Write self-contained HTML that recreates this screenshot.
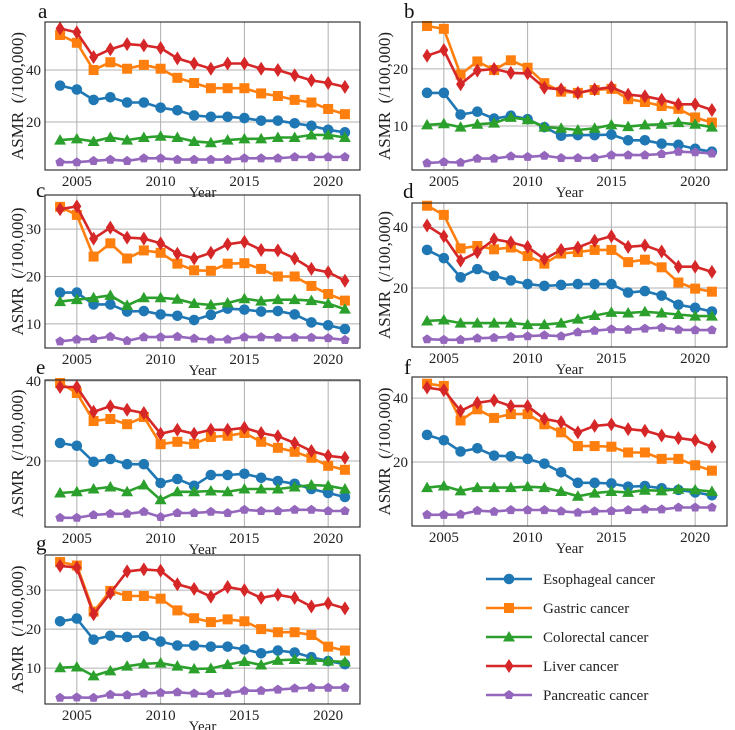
<!DOCTYPE html>
<html><head><meta charset="utf-8"><style>
body{margin:0;background:#fff;}
svg{display:block;font-family:"Liberation Serif",serif;}
</style></head><body>
<svg id="fig" width="735" height="730" viewBox="0 0 735 730" xmlns="http://www.w3.org/2000/svg"></svg>
<script>
const years=[2004,2005,2006,2007,2008,2009,2010,2011,2012,2013,2014,2015,2016,2017,2018,2019,2020,2021];
const xTicks=[2005,2010,2015,2020];
// panel a
const aEsophageal=[34,32.5,28.5,29.5,27.5,27.5,25.5,24.5,22.5,22,22,21.5,20.5,20.5,19.5,18.5,17,16];
const aGastric=[53.5,50.5,40,43,40.5,42,40.5,37,35,33,33,33,31,30,28.5,27.5,25,23];
const aColorectal=[13,13.5,12.5,14,13,14,14.5,14,12.5,12,13,13.5,13.5,14,14,15,15,14];
const aLiver=[56,54.5,45,48,50,49.5,48.5,44.5,42.5,40.5,42.5,42.5,40.5,40,38,36,35,33.5];
const aPancreatic=[4.5,4.5,5,5.5,5,6,6,5.5,5.5,5.5,5.5,6,6,6,6.5,6.5,6.5,6.5];
const aTicks=[20,40];
// panel b
const bEsophageal=[15.8,15.8,12,12.5,11.3,11.8,11.2,9.8,8.3,8.4,8.4,8.5,7.5,7.5,6.9,6.7,6,5.5];
const bGastric=[27.5,27,19,21.3,19.8,21.5,20.2,17.5,16,15.8,16.3,16.5,14.7,14.2,13.5,13,11.5,10.6];
const bColorectal=[10.2,10.4,9.8,10.3,10.5,11.5,11.1,9.8,9.6,9.3,9.6,10.2,9.9,10.2,10.3,10.6,10.3,9.8];
const bLiver=[22.3,23.3,17.3,19.7,20,19.3,19.2,16.7,16.4,15.8,16.4,16.8,15.5,15.2,14.6,13.8,13.8,12.8];
const bPancreatic=[3.5,3.7,3.6,4.3,4.3,4.7,4.6,4.8,4.4,4.4,4.4,4.9,4.9,4.9,5.1,5.5,5.4,5.2];
const bTicks=[10,20];
// panel c
const cEsophageal=[16.6,16.6,14.1,14.1,12.6,12.7,12,11.7,10.8,11.9,13.2,13,12.6,12.7,12,10.3,9.7,8.9];
const cGastric=[34.7,33,24.2,27,23.8,25.5,25,22.7,21.3,21.2,22.7,22.8,21.6,20,20,18,16.3,14.9];
const cColorectal=[14.7,15.1,15.5,16,13.9,15.5,15.5,15.2,14.3,14,14.4,15.3,14.8,15.1,15.1,14.9,14.3,13.1];
const cLiver=[34.2,34.8,28,30.3,28.2,28,27,24.8,23.8,25,26.8,27.3,25.6,25.5,23.8,21.6,20.9,19.1];
const cPancreatic=[6.3,6.7,6.8,7.3,6.4,7.2,7.2,7.3,6.9,6.7,6.7,7.2,7.2,7.1,7.1,7.1,7.0,6.6];
const cTicks=[10,20,30];
// panel d
const dEsophageal=[32.5,29.8,23.5,26.2,24,22.5,21.3,20.7,21,21.3,21.3,21.3,18.5,19,17.5,14.5,13.5,12.3];
const dGastric=[47,44,33,33.8,32.7,33.3,30.5,28,31.3,31.8,32.5,32.5,28.5,29.3,26.8,21.8,19.8,18.8];
const dColorectal=[9.2,9.5,8.5,8.5,8.5,8.5,8,8,8.5,9.8,11,12,11.8,12.2,11.8,11.3,10.8,10.8];
const dLiver=[40.5,37,29,31.8,36,35,33.5,29.5,32.5,33.3,35.5,37,33.5,34,32,27,27,25.3];
const dPancreatic=[3.2,3,3,3.5,3.7,4,4.2,4.5,4.2,5.5,6,6.5,6.3,6.7,7,6.3,6.2,6.2];
const dTicks=[20,40];
// panel e
const eEsophageal=[24.5,23.8,19.8,20.5,19.2,19.2,14.5,15.5,13.8,16.5,16.5,16.8,15.8,15,14.3,13,12,11];
const eGastric=[39.5,37,30,30.5,29.2,31,24.2,24.8,24.3,26,26.3,27,24.8,23.3,22.3,20.8,18.8,17.8];
const eColorectal=[12,12.3,13,13.5,12.3,14,10.3,12.3,12.3,12.5,12.3,13,13,13,13.5,14,13.8,13];
const eLiver=[38.5,38.5,32.3,33.7,32.8,32,26.8,27.8,26.8,27.8,27.8,28.3,27,26.2,24.5,22.5,21.3,20.8];
const ePancreatic=[5.8,5.8,6.5,6.8,6.8,7.3,6.0,7,7,7.3,7,7.8,7.5,7.5,7.8,7.8,7.5,7.5];
const eTicks=[20,40];
// panel f
const fEsophageal=[28.5,26.8,23.3,24.3,22,21.8,21,19.5,16.8,13.5,13.5,13.3,12.3,12.5,11.8,11.3,10.5,9.6];
const fGastric=[44.5,43.8,33,36.5,33.8,35,35,31.8,29.3,25,25,24.8,23,23,21,21,19,17.3];
const fColorectal=[12,12.5,11,12,12,12,12.3,12,10.8,9.3,10.3,10.8,10.5,11.2,11,11.5,11.3,10.8];
const fLiver=[43.3,42.5,36,38.5,39.3,37.5,37.5,33.5,32.5,29.3,31.3,31.8,30.3,29.8,28.3,27.5,26.8,24.8];
const fPancreatic=[3.5,3.5,3.6,4.8,4.5,5,5,5,4.6,4.2,4.6,4.7,5,5.2,5.2,5.8,5.8,5.8];
const fTicks=[20,40];
// panel g
const gEsophageal=[22,22.7,17.3,18.3,18,18.2,16.8,15.8,15.8,15.5,15.5,14.8,13.8,14.5,14,12.8,11.8,11];
const gGastric=[37.2,36.3,24.5,29.8,28.5,28.5,27.8,24.8,22.8,21.8,22.5,22,20,19.2,19.2,18.5,15.5,14.5];
const gColorectal=[10.1,10.3,8,9.3,10.5,11.1,11.3,10.5,9.8,9.9,10.9,11.7,10.8,12,12.2,12,11.8,11.6];
const gLiver=[36.2,35.8,23.8,29.2,34.8,35.3,35,31.5,30.3,28.3,30.8,30,28,28.8,28,25.8,26.6,25.3];
const gPancreatic=[2.4,2.5,2.4,3.2,3.1,3.5,3.7,3.8,3.5,3.4,3.6,4.2,4.2,4.5,4.8,5,5,5];
const gTicks=[10,20,30];

const seriesNames=["Esophageal cancer","Gastric cancer","Colorectal cancer","Liver cancer","Pancreatic cancer"];
const colors=["#1f77b4","#ff7f0e","#2ca02c","#d62728","#9467bd"];
const markers=["circle","square","triangle","diamond","pentagon"];

const NS="http://www.w3.org/2000/svg";
const svg=document.getElementById('fig');
function mk(tag,attrs,parent){const e=document.createElementNS(NS,tag);for(const k in attrs)e.setAttribute(k,attrs[k]);(parent||svg).appendChild(e);return e;}

function marker(g,type,x,y,c){
  let e;
  if(type==="circle") e=mk('circle',{cx:x,cy:y,r:5.3,fill:c},g);
  else if(type==="square") e=mk('rect',{x:x-5,y:y-5,width:10,height:10,fill:c},g);
  else if(type==="triangle") e=mk('polygon',{points:`${x},${y-6} ${x+6},${y+4.5} ${x-6},${y+4.5}`,fill:c},g);
  else if(type==="diamond") e=mk('polygon',{points:`${x},${y-7} ${x+4.5},${y} ${x},${y+7} ${x-4.5},${y}`,fill:c},g);
  else { let p=[];for(let i=0;i<5;i++){const a=-Math.PI/2+i*2*Math.PI/5;p.push((x+5*Math.cos(a)).toFixed(1)+','+(y+5*Math.sin(a)).toFixed(1));}
    e=mk('polygon',{points:p.join(' '),fill:c},g);}
  return e;
}

const panels=[
 {id:'a',L:45,R:360,T:22,B:170,ymin:1.5,ymax:58.5,ticks:aTicks,data:[aEsophageal,aGastric,aColorectal,aLiver,aPancreatic],lx:38,ly:18,yl:19},
 {id:'b',L:412,R:727,T:22,B:170,ymin:2.3,ymax:28.2,ticks:bTicks,data:[bEsophageal,bGastric,bColorectal,bLiver,bPancreatic],lx:404,ly:18,yl:386},
 {id:'c',L:45,R:360,T:195,B:348,ymin:4.9,ymax:37.2,ticks:cTicks,data:[cEsophageal,cGastric,cColorectal,cLiver,cPancreatic],lx:36,ly:197,yl:19},
 {id:'d',L:412,R:727,T:203,B:347,ymin:0.65,ymax:47.9,ticks:dTicks,data:[dEsophageal,dGastric,dColorectal,dLiver,dPancreatic],lx:403,ly:198,yl:386},
 {id:'e',L:45,R:360,T:380,B:527,ymin:3.5,ymax:40.25,ticks:eTicks,data:[eEsophageal,eGastric,eColorectal,eLiver,ePancreatic],lx:36,ly:374,yl:19},
 {id:'f',L:412,R:727,T:377,B:526,ymin:0,ymax:46.6,ticks:fTicks,data:[fEsophageal,fGastric,fColorectal,fLiver,fPancreatic],lx:404,ly:374,yl:386},
 {id:'g',L:45,R:360,T:555,B:704,ymin:0.8,ymax:39,ticks:gTicks,data:[gEsophageal,gGastric,gColorectal,gLiver,gPancreatic],lx:36,ly:550,yl:19}
];

panels.forEach(p=>{
  const g=mk('g',{});
  
  
  const xs=v=>p.L+(v-2003.1)/(2021.9-2003.1)*(p.R-p.L);
  const ys=v=>p.B-(v-p.ymin)/(p.ymax-p.ymin)*(p.B-p.T);
  xTicks.forEach(t=>{
    const gl=mk('line',{x1:xs(t),x2:xs(t),y1:p.T,y2:p.B,stroke:'#b0b0b0','stroke-width':1},g);
    
    
    const tl=mk('text',{x:xs(t),y:p.B+16,'font-size':15,'text-anchor':'middle',fill:'#222'},g);
    tl.textContent=t;
    
    
  });
  p.ticks.forEach(t=>{
    const gl=mk('line',{x1:p.L,x2:p.R,y1:ys(t),y2:ys(t),stroke:'#b0b0b0','stroke-width':1},g);
    
    
    const tl=mk('text',{x:p.L-4,y:ys(t)+5,'font-size':15,'text-anchor':'end',fill:'#222'},g);
    tl.textContent=t;
    
    
  });
  p.data.forEach((arr,si)=>{
    const sg=mk('g',{},g);
    
    
    const pts=arr.map((v,i)=>xs(years[i]).toFixed(1)+','+ys(v).toFixed(1)).join(' ');
    const pl=mk('polyline',{points:pts,fill:'none',stroke:colors[si],'stroke-width':2.6},sg);
    
    
    arr.forEach((v,i)=>{
      const m=marker(sg,markers[si],xs(years[i]),ys(v),colors[si]);
      
      
    });
  });
  const box=mk('rect',{x:p.L,y:p.T,width:p.R-p.L,height:p.B-p.T,fill:'none',stroke:'#222','stroke-width':1.1},g);
  
  
  const xt=mk('text',{x:(p.L+p.R)/2,y:p.B+27,'font-size':15,'text-anchor':'middle',fill:'#222'},g);
  xt.textContent='Year';
  
  
  const cy=(p.T+p.B)/2;
  const yt=mk('text',{x:p.yl,y:cy,'font-size':17,'text-anchor':'middle',fill:'#222',transform:`rotate(-90 ${p.yl} ${cy})`,'dominant-baseline':'middle'},g);
  yt.textContent='ASMR\u00a0\u00a0(/100,000)';
  
  
  const lt=mk('text',{x:p.lx,y:p.ly,'font-size':21,fill:'#111'},g);
  lt.textContent=p.id;
  
  
});

// legend
const lg=mk('g',{});


seriesNames.forEach((n,i)=>{
  const y=579+i*29;
  const eg=mk('g',{},lg);
  
  
  mk('line',{x1:486,x2:532,y1:y,y2:y,stroke:colors[i],'stroke-width':2.6},eg);
  marker(eg,markers[i],509,y,colors[i]);
  const t=mk('text',{x:543,y:y+5,'font-size':15,fill:'#222'},eg);
  t.textContent=n;
});
</script>
</body></html>
